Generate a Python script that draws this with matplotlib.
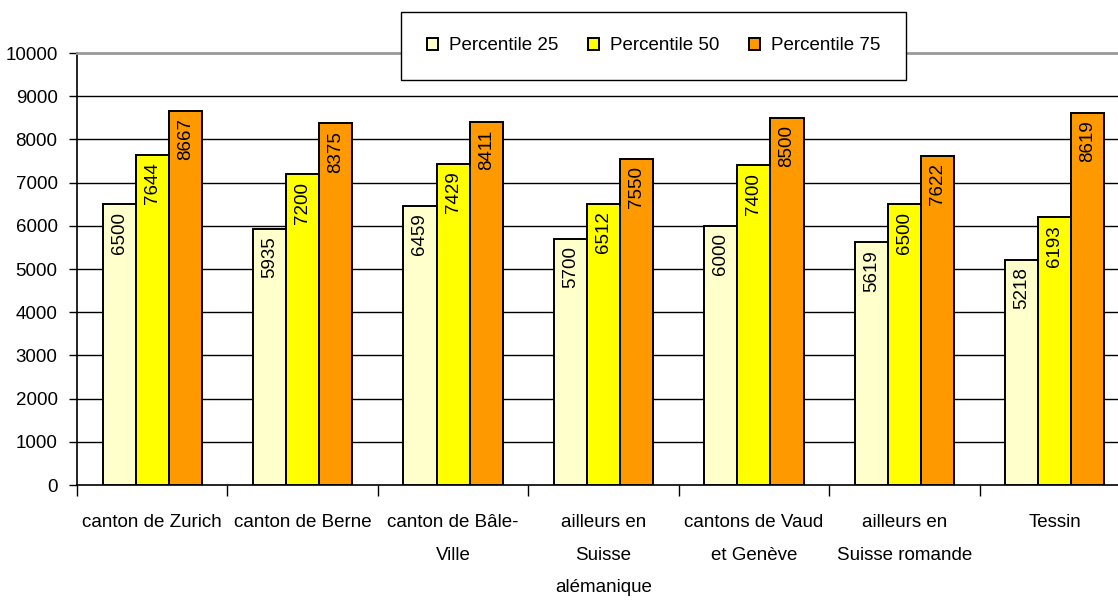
import matplotlib
matplotlib.use("Agg")
import matplotlib.pyplot as plt
import numpy as np

categories = ["canton de Zurich", "canton de Berne", "canton de Bâle-\nVille",
              "ailleurs en\nSuisse\nalémanique", "cantons de Vaud\net Genève",
              "ailleurs en\nSuisse romande", "Tessin"]
series_names = ["Percentile 25", "Percentile 50", "Percentile 75"]
p25 = [6500, 5935, 6459, 5700, 6000, 5619, 5218]
p50 = [7644, 7200, 7429, 6512, 7400, 6500, 6193]
p75 = [8667, 8375, 8411, 7550, 8500, 7622, 8619]
colors = ["#FFFFCC", "#FFFF00", "#FF9900"]

plt.rcParams['font.family'] = ['Liberation Sans', 'DejaVu Sans']

W, H = 1118, 601
FS = 13.5
fig = plt.figure(figsize=(W / 100, H / 100), dpi=100)
ax = fig.add_axes([77 / W, (H - 485) / H, 1053 / W, 432 / H])

x = np.arange(len(categories))
bw = 0.22
for i, (vals, name, c) in enumerate(zip([p25, p50, p75], series_names, colors)):
    xs = x + (i - 1) * bw
    bars = ax.bar(xs, vals, width=bw, color=c, edgecolor="black", linewidth=1.4,
                  label=name, zorder=3)
    for b, v in zip(bars, vals):
        ax.annotate(str(v), (b.get_x() + b.get_width() / 2, v),
                    xytext=(0, -5.5), textcoords="offset points",
                    rotation=90, ha="center", va="top", fontsize=FS,
                    color="black", zorder=4)

ax.set_xlim(-0.5, len(categories) - 0.5)
ax.set_ylim(0, 10000)
ax.set_yticks(np.arange(0, 10001, 1000))
ax.set_yticklabels([str(v) for v in range(0, 10001, 1000)])
ax.tick_params(axis="y", direction="out", length=6, width=1, labelsize=FS,
               pad=8, colors="black")
for yv in range(1000, 10000, 1000):
    ax.axhline(yv, color="black", linewidth=1, zorder=1)

# category boundary ticks
ax.set_xticks(np.arange(-0.5, len(categories) - 0.4, 1))
ax.set_xticklabels([])
ax.tick_params(axis="x", direction="out", length=8, width=1)
for xi, lab in zip(x, categories):
    ax.text(xi, -0.067, lab, transform=ax.get_xaxis_transform(), ha="center",
            va="top", fontsize=FS, linespacing=2.2, color="black")

for s in ["left", "bottom"]:
    ax.spines[s].set_color("black")
    ax.spines[s].set_linewidth(1.2)
ax.spines["top"].set_color("#999999")
ax.spines["top"].set_linewidth(2)
ax.spines["right"].set_visible(False)

leg = fig.legend(loc="center", bbox_to_anchor=(653.5 / W, 1 - 46 / H), ncol=3,
                 fontsize=FS, frameon=True, fancybox=False, shadow=False,
                 handlelength=0.6, handleheight=0.6, handletextpad=0.6,
                 columnspacing=1.55, borderpad=1.35, borderaxespad=0)
leg.get_frame().set_edgecolor("black")
leg.get_frame().set_linewidth(1)
leg.get_frame().set_alpha(1)

fig.savefig("out.png", dpi=100)
